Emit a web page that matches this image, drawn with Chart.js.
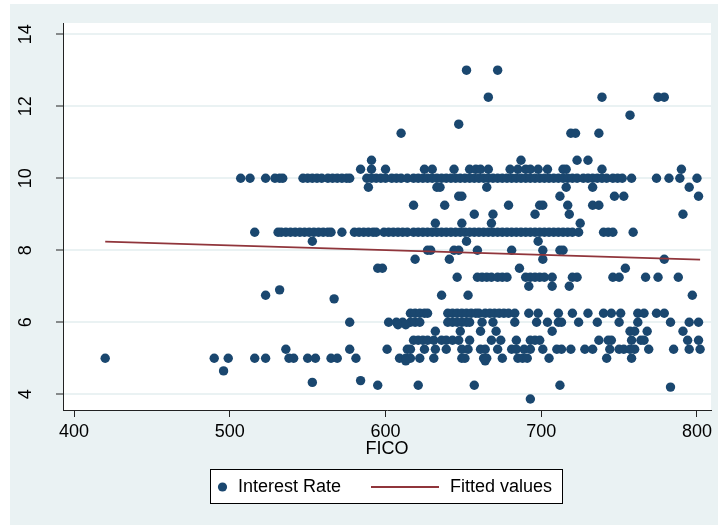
<!DOCTYPE html>
<html>
<head>
<meta charset="utf-8">
<script src="https://cdn.jsdelivr.net/npm/chart.js@4.4.1/dist/chart.umd.min.js"></script>
<style>
html, body { margin: 0; padding: 0; background: #fff; }
#wrap { width: 718px; height: 525px; }
</style>
</head>
<body>
<div id="wrap"><canvas id="fico-chart" width="718" height="525"></canvas></div>
<script>
// FICO scores, one list per interest rate level
let fico_at_13_00 = [652, 672];
let fico_at_12_25 = [666, 739, 775, 779];
let fico_at_11_75 = [757];
let fico_at_11_50 = [647];
let fico_at_11_25 = [610, 719, 722, 737];
let fico_at_10_50 = [591, 687, 723, 730];
let fico_at_10_25 = [584, 591, 600, 625, 630, 644, 654, 658, 661, 666, 680, 685, 690, 693, 698, 704, 714, 716, 739, 790];
let fico_at_10_00 = [507, 513, 523, 529, 532, 534, 547, 550, 553, 556, 559, 563, 566, 569, 572, 575, 577, 588, 591, 594, 597, 600, 604, 607, 610, 614,
    618, 621, 624, 627, 630, 633, 636, 639, 642, 645, 648, 651, 654, 657, 660, 663, 666, 669, 672, 675, 678, 681, 684, 687, 690, 693, 696, 699,
    702, 705, 708, 711, 714, 717, 720, 723, 727, 730, 733, 736, 739, 742, 746, 749, 752, 758, 774, 782, 789, 800];
let fico_at_9_75 = [589, 633, 635, 665, 716, 733, 795];
let fico_at_9_50 = [647, 649, 712, 747, 753, 801];
let fico_at_9_25 = [618, 638, 679, 699, 701, 717, 733, 737];
let fico_at_9_00 = [657, 669, 696, 718, 791];
let fico_at_8_75 = [632, 649, 668, 725];
let fico_at_8_50 = [516, 531, 533, 536, 539, 542, 545, 548, 551, 554, 557, 560, 563, 565, 572, 580, 583, 586, 589, 592, 594, 599, 602, 605, 608, 611, 614,
    618, 621, 624, 627, 630, 633, 636, 639, 642, 645, 648, 651, 654, 657, 660, 663, 666, 669, 672, 675, 678, 681, 684, 687, 690, 693, 696, 699,
    702, 705, 708, 711, 714, 717, 720, 724, 740, 743, 746, 759];
let fico_at_8_25 = [553, 652, 698];
let fico_at_8_00 = [627, 629, 644, 647, 659, 681, 701, 712, 714];
let fico_at_7_75 = [619, 641, 701, 779];
let fico_at_7_50 = [595, 598, 686, 754];
let fico_at_7_25 = [646, 659, 662, 665, 668, 672, 675, 678, 690, 693, 696, 699, 702, 707, 720, 723, 746, 750, 767, 775, 788];
let fico_at_7_00 = [692, 707, 718];
let fico_at_6_90 = [532];
let fico_at_6_75 = [523, 636, 653, 797];
let fico_at_6_65 = [567];
let fico_at_6_25 = [616, 619, 622, 625, 627, 640, 643, 646, 649, 652, 655, 658, 660, 664, 667, 670, 673, 676, 679, 683, 692, 698, 711, 720, 730,
    740, 745, 751, 762, 766, 774, 779];
let fico_at_6_00 = [577, 602, 607, 611, 616, 619, 622, 640, 643, 646, 649, 652, 654, 662, 669, 683, 697, 704, 711, 713, 724, 736, 750, 762, 783, 795, 801];
let fico_at_5_93 = [608, 613];
let fico_at_5_75 = [632, 648, 661, 671, 707, 757, 760, 768, 791];
let fico_at_5_50 = [618, 621, 624, 627, 631, 636, 639, 643, 647, 654, 668, 674, 684, 693, 696, 699, 737, 743, 745, 758, 764, 766, 794, 801];
let fico_at_5_25 = [536, 577, 601, 614, 616, 625, 632, 639, 649, 653, 661, 664, 672, 681, 684, 689, 693, 701, 710, 713, 719, 728, 733, 744, 750,
    753, 757, 760, 769, 785, 795, 802];
let fico_at_5_00 = [420, 490, 499, 516, 523, 538, 541, 550, 555, 565, 569, 581, 609, 613, 616, 622, 631, 649, 651, 663, 665, 675, 685, 688, 691,
    705, 742, 758];
let fico_at_4_93 = [613, 664];
let fico_at_4_65 = [496];
let fico_at_4_38 = [584];
let fico_at_4_33 = [553];
let fico_at_4_25 = [595, 621, 657, 712];
let fico_at_4_20 = [783];
let fico_at_3_87 = [693];

// interest rate of each list above, same order
let rate_levels = [13.0, 12.25, 11.75, 11.5, 11.25, 10.5, 10.25, 10.0, 9.75, 9.5, 9.25, 9.0, 8.75, 8.5, 8.25, 8.0, 7.75, 7.5, 7.25, 7.0,
    6.9, 6.75, 6.65, 6.25, 6.0, 5.93, 5.75, 5.5, 5.25, 5.0, 4.93, 4.65, 4.38, 4.33, 4.25, 4.2, 3.87];
let fico_lists = [fico_at_13_00, fico_at_12_25, fico_at_11_75, fico_at_11_50, fico_at_11_25, fico_at_10_50, fico_at_10_25, fico_at_10_00,
    fico_at_9_75, fico_at_9_50, fico_at_9_25, fico_at_9_00, fico_at_8_75, fico_at_8_50, fico_at_8_25, fico_at_8_00, fico_at_7_75,
    fico_at_7_50, fico_at_7_25, fico_at_7_00, fico_at_6_90, fico_at_6_75, fico_at_6_65, fico_at_6_25, fico_at_6_00, fico_at_5_93,
    fico_at_5_75, fico_at_5_50, fico_at_5_25, fico_at_5_00, fico_at_4_93, fico_at_4_65, fico_at_4_38, fico_at_4_33, fico_at_4_25,
    fico_at_4_20, fico_at_3_87];

// fitted line end points
let fit_fico = [420, 802];
let fit_rate = [8.24, 7.74];

// axis ticks
let x_ticks = [400, 500, 600, 700, 800];
let y_ticks = [4, 6, 8, 10, 12, 14];

let scatter_points = [];
fico_lists.forEach((list, i) => {
    list.forEach(f => scatter_points.push({x: f, y: rate_levels[i]}));
});
let fit_points = fit_fico.map((f, i) => ({x: f, y: fit_rate[i]}));

let label_font = {family: '"Liberation Sans", Arial, sans-serif', size: 18};

// stata like background: outer light blue region, white plot region
let background_plugin = {
    id: 'stataBackground',
    beforeDraw(chart) {
        let ctx = chart.ctx;
        let a = chart.chartArea;
        ctx.save();
        ctx.fillStyle = '#ffffff';
        ctx.fillRect(0, 0, chart.width, chart.height);
        ctx.fillStyle = '#eaf2f3';
        ctx.fillRect(10, 4, chart.width - 10, chart.height - 4);
        ctx.fillStyle = '#ffffff';
        ctx.fillRect(a.left, a.top, a.right - a.left, a.bottom - a.top);
        ctx.restore();
    }
};

// boxed legend under the x axis title
let legend_plugin = {
    id: 'boxLegend',
    afterDraw(chart) {
        let ctx = chart.ctx;
        let sets = chart.data.datasets;
        let cy = 487;
        ctx.save();
        ctx.fillStyle = '#ffffff';
        ctx.fillRect(210.5, 469.5, 352, 34);
        ctx.strokeStyle = '#000000';
        ctx.lineWidth = 1;
        ctx.strokeRect(210.5, 469.5, 352, 34);
        // marker
        ctx.fillStyle = sets[0].backgroundColor;
        ctx.beginPath();
        ctx.arc(222.5, cy, 4.6, 0, Math.PI * 2);
        ctx.fill();
        // line
        ctx.strokeStyle = sets[1].borderColor;
        ctx.lineWidth = 2;
        ctx.beginPath();
        ctx.moveTo(371, cy);
        ctx.lineTo(439, cy);
        ctx.stroke();
        ctx.fillStyle = '#000000';
        ctx.font = '18px "Liberation Sans", Arial, sans-serif';
        ctx.textBaseline = 'middle';
        ctx.textAlign = 'left';
        ctx.fillText(sets[0].label, 238, cy);
        ctx.fillText(sets[1].label, 450, cy);
        ctx.restore();
    }
};

let fico_chart = new Chart(document.getElementById('fico-chart').getContext('2d'), {
    type: 'scatter',
    data: {
        datasets: [{
            label: 'Interest Rate',
            data: scatter_points,
            backgroundColor: '#1a476f',
            borderWidth: 0,
            pointRadius: 4.7,
            pointHoverRadius: 4.7,
            order: 2
        }, {
            type: 'line',
            label: 'Fitted values',
            data: fit_points,
            borderColor: '#90353b',
            backgroundColor: '#90353b',
            borderWidth: 1.8,
            pointRadius: 0,
            fill: false,
            order: 1
        }]
    },
    options: {
        responsive: false,
        animation: false,
        devicePixelRatio: 1,
        layout: {padding: {left: 0, top: 23, right: 7, bottom: 0}},
        plugins: {legend: {display: false}, tooltip: {enabled: false}},
        scales: {
            x: {
                type: 'linear',
                min: 392.9,
                max: 809,
                afterBuildTicks: s => { s.ticks = x_ticks.map(v => ({value: v})); },
                afterFit: s => { s.height = 115; s.paddingLeft = 0; s.paddingRight = 0; },
                ticks: {font: label_font, color: '#000', padding: 4, minRotation: 0, maxRotation: 0},
                grid: {drawOnChartArea: false, tickLength: 7, tickColor: '#222', tickWidth: 1},
                border: {color: '#222', width: 1},
                title: {display: true, text: 'FICO', font: label_font, color: '#000', padding: {top: 0, bottom: 65}}
            },
            y: {
                type: 'linear',
                min: 3.564,
                max: 14.31,
                afterBuildTicks: s => { s.ticks = y_ticks.map(v => ({value: v})); },
                // fixed width, and no extra room asked for the rotated labels
                afterFit: s => { s.width = 63; s.paddingTop = 0; s.paddingBottom = 0; },
                ticks: {font: label_font, color: '#000', padding: 20, minRotation: 90, maxRotation: 90, crossAlign: 'center'},
                grid: {color: '#eaf2f3', lineWidth: 2, tickLength: 7, tickColor: '#222', tickWidth: 1},
                border: {color: '#222', width: 1}
            }
        }
    },
    plugins: [background_plugin, legend_plugin]
});
</script>
</body>
</html>
